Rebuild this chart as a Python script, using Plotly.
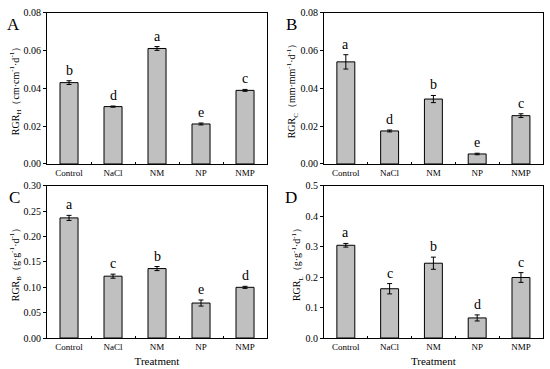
import plotly.graph_objects as go

categories = ["Control", "NaCl", "NM", "NP", "NMP"]

rgr_h = [0.0431, 0.0304, 0.0612, 0.0212, 0.0390]
rgr_h_err = [0.0010, 0.0003, 0.0010, 0.0005, 0.0005]
rgr_h_letters = ["b", "d", "a", "e", "c"]

rgr_c = [0.0541, 0.0175, 0.0344, 0.0053, 0.0256]
rgr_c_err = [0.0038, 0.0005, 0.0019, 0.0004, 0.0010]
rgr_c_letters = ["a", "d", "b", "e", "c"]

rgr_b = [0.237, 0.122, 0.137, 0.069, 0.100]
rgr_b_err = [0.005, 0.004, 0.004, 0.006, 0.002]
rgr_b_letters = ["a", "c", "b", "e", "d"]

rgr_l = [0.305, 0.162, 0.246, 0.066, 0.199]
rgr_l_err = [0.006, 0.017, 0.020, 0.010, 0.016]
rgr_l_letters = ["a", "c", "b", "d", "c"]

panels = [
    dict(vals=rgr_h, err=rgr_h_err, let=rgr_h_letters, label="A",
         title="RGR<sub>H</sub>（cm·cm<sup>-1</sup>·d<sup>-1</sup>）",
         rng=[0, 0.08], dtick=0.02, fmt=".2f",
         xd=[0.0855, 0.4855], yd=[0.5556, 0.9648], xtitle=None),
    dict(vals=rgr_c, err=rgr_c_err, let=rgr_c_letters, label="B",
         title="RGR<sub>C</sub>（mm·mm<sup>-1</sup>·d<sup>-1</sup>）",
         rng=[0, 0.08], dtick=0.02, fmt=".2f",
         xd=[0.589, 0.987], yd=[0.5556, 0.9648], xtitle=None),
    dict(vals=rgr_b, err=rgr_b_err, let=rgr_b_letters, label="C",
         title="RGR<sub>B</sub>（g·g<sup>-1</sup>·d<sup>-1</sup>）",
         rng=[0, 0.30], dtick=0.05, fmt=".2f",
         xd=[0.0855, 0.4855], yd=[0.084, 0.496], xtitle="Treatment"),
    dict(vals=rgr_l, err=rgr_l_err, let=rgr_l_letters, label="D",
         title="RGR<sub>L</sub>（g·g<sup>-1</sup>·d<sup>-1</sup>）",
         rng=[0, 0.5], dtick=0.1, fmt=".1f",
         xd=[0.589, 0.987], yd=[0.084, 0.496], xtitle="Treatment"),
]

FONT = "Liberation Serif, Times New Roman, serif"
fig = go.Figure()
layout = {}
annotations = []
for i, p in enumerate(panels):
    n = "" if i == 0 else str(i + 1)
    xa, ya = "x" + n, "y" + n
    fig.add_trace(go.Bar(
        x=categories, y=p["vals"], xaxis=xa, yaxis=ya,
        width=0.41,
        marker=dict(color="#c0c0c0", line=dict(color="black", width=1)),
        error_y=dict(type="data", array=p["err"], color="black",
                     thickness=1, width=2.5),
        showlegend=False,
    ))
    layout["xaxis" + n] = dict(
        domain=p["xd"], anchor=ya, type="category", automargin=False,
        showline=True, linecolor="black", linewidth=1, mirror=True,
        ticks="inside", ticklen=2, tickson="boundaries", tickcolor="black",
        tickfont=dict(family=FONT, size=9, color="black"),
        title=dict(text=p["xtitle"], font=dict(family=FONT, size=11, color="black"),
                   standoff=6) if p["xtitle"] else None,
        showgrid=False, zeroline=False, fixedrange=True,
    )
    layout["yaxis" + n] = dict(
        domain=p["yd"], anchor=xa, range=p["rng"], dtick=p["dtick"],
        tickformat=p["fmt"], automargin=False,
        showline=True, linecolor="black", linewidth=1, mirror=True,
        ticks="outside", ticklen=3, tickcolor="black",
        tickfont=dict(family=FONT, size=10, color="black"),
        title=dict(text=p["title"], font=dict(family=FONT, size=10, color="black"),
                   standoff=2),
        showgrid=False, zeroline=False,
    )
    for c, v, e, l in zip(categories, p["vals"], p["err"], p["let"]):
        annotations.append(dict(
            x=c, y=v + e, xref=xa, yref=ya, text=l, showarrow=False,
            yanchor="bottom", yshift=1,
            font=dict(family=FONT, size=14, color="black"),
        ))
    annotations.append(dict(
        x=p["xd"][0] - 0.045, y=p["yd"][1] + 0.0, xref="paper", yref="paper",
        text=p["label"], showarrow=False, xanchor="right", yanchor="top",
        font=dict(family=FONT, size=17, color="black"),
    ))

fig.update_layout(
    **layout,
    annotations=annotations,
    width=550, height=369,
    margin=dict(l=0, r=0, t=0, b=0),
    paper_bgcolor="white", plot_bgcolor="white",
    bargap=0.5,
)
fig.write_html("out.html", config={"displayModeBar": False},
               post_script="document.body.style.margin='0px';")
